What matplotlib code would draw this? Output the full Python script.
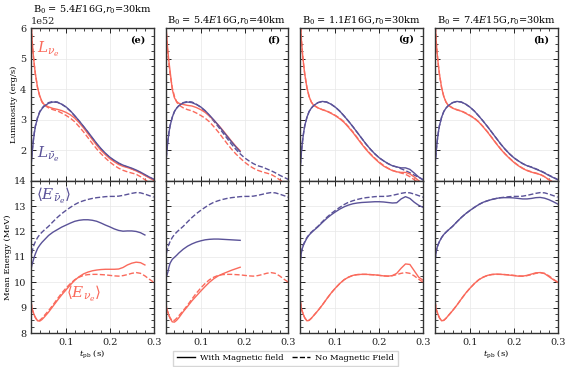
import numpy as np
import matplotlib
matplotlib.use("Agg")
import matplotlib.pyplot as plt
from matplotlib.lines import Line2D
from matplotlib.ticker import AutoMinorLocator

plt.rcParams['font.family'] = 'DejaVu Serif'
plt.rcParams['mathtext.fontset'] = 'dejavuserif'

# time after bounce (s)
t = [0.02, 0.0225, 0.025, 0.0275, 0.03, 0.035, 0.04, 0.045, 0.05,
     0.06, 0.07, 0.08, 0.09, 0.10, 0.11, 0.12, 0.13, 0.14, 0.15, 0.16,
     0.17, 0.18, 0.19, 0.20, 0.21, 0.22, 0.23, 0.24, 0.25, 0.26, 0.27,
     0.28, 0.29, 0.30]

titles = ['B$_0$ = 5.4$E$16G,$r_0$=30km', 'B$_0$ = 5.4$E$16G,$r_0$=40km',
          'B$_0$ = 1.1$E$16G,$r_0$=30km', 'B$_0$ = 7.4$E$15G,$r_0$=30km']
panel_tags = ['(e)', '(f)', '(g)', '(h)']

# no magnetic field run (same in every column), luminosity in 1e52 erg/s
lum_nue_nob = [6.3, 5.6, 5.15, 4.8, 4.5, 4.05, 3.76, 3.58, 3.48,
               3.39, 3.33, 3.29, 3.22, 3.14, 3.05, 2.93, 2.77, 2.6, 2.41, 2.22,
               2.04, 1.88, 1.74, 1.61, 1.5, 1.41, 1.34, 1.29, 1.25, 1.21, 1.13,
               1.03, 0.95, 0.88]
lum_anue_nob = [1.5, 1.95, 2.3, 2.58, 2.8, 3.08, 3.27, 3.38, 3.46,
                3.56, 3.6, 3.58, 3.51, 3.41, 3.28, 3.12, 2.95, 2.77, 2.58, 2.39,
                2.2, 2.03, 1.88, 1.75, 1.65, 1.56, 1.49, 1.45, 1.39, 1.33, 1.26,
                1.18, 1.11, 1.04]
en_nue_nob = [9.25, 8.95, 8.82, 8.7, 8.6, 8.48, 8.5, 8.58, 8.68,
              8.88, 9.1, 9.34, 9.57, 9.77, 9.95, 10.1, 10.2, 10.27, 10.3, 10.31,
              10.31, 10.3, 10.29, 10.27, 10.25, 10.24, 10.26, 10.3, 10.35, 10.38, 10.35,
              10.25, 10.12, 10.0]
en_anue_nob = [10.85, 11.2, 11.38, 11.5, 11.6, 11.76, 11.88, 11.97, 12.05,
               12.2, 12.38, 12.55, 12.7, 12.83, 12.95, 13.06, 13.15, 13.21, 13.26, 13.3,
               13.33, 13.35, 13.37, 13.38, 13.38, 13.39, 13.42, 13.46, 13.5, 13.53, 13.52,
               13.47, 13.41, 13.35]

# magnetic field runs
lum_nue_e = [6.3, 5.6, 5.15, 4.8, 4.5, 4.05, 3.78, 3.6, 3.5,
             3.42, 3.37, 3.34, 3.3, 3.24, 3.16, 3.05, 2.9, 2.73, 2.54, 2.35,
             2.16, 1.99, 1.85, 1.72, 1.62, 1.53, 1.47, 1.43, 1.38, 1.32, 1.25,
             1.17, 1.09, 1.01]
lum_anue_e = [1.45, 1.9, 2.25, 2.55, 2.78, 3.06, 3.25, 3.36, 3.44,
              3.54, 3.58, 3.57, 3.51, 3.42, 3.29, 3.13, 2.96, 2.78, 2.6, 2.41,
              2.22, 2.05, 1.9, 1.77, 1.67, 1.58, 1.51, 1.46, 1.41, 1.35, 1.28,
              1.2, 1.12, 1.05]
en_nue_e = [9.25, 8.95, 8.82, 8.7, 8.62, 8.48, 8.47, 8.53, 8.62,
            8.82, 9.05, 9.28, 9.5, 9.7, 9.9, 10.08, 10.22, 10.33, 10.4, 10.45,
            10.48, 10.5, 10.51, 10.51, 10.51, 10.52, 10.58, 10.68, 10.75, 10.79, 10.77,
            10.68]
en_anue_e = [10.5, 10.7, 10.85, 11.0, 11.12, 11.33, 11.46, 11.57, 11.66,
             11.84, 11.97, 12.07, 12.17, 12.25, 12.33, 12.4, 12.44, 12.46, 12.46, 12.44,
             12.4, 12.33, 12.25, 12.18, 12.1, 12.04, 12.01, 12.02, 12.02, 12.0, 11.95,
             11.86]

lum_nue_f = [6.3, 5.7, 5.25, 4.9, 4.6, 4.0, 3.72, 3.6, 3.54,
             3.5, 3.47, 3.45, 3.4, 3.33, 3.24, 3.12, 2.98, 2.83, 2.66, 2.48,
             2.3, 2.13, 1.98]
lum_anue_f = [1.5, 1.95, 2.3, 2.58, 2.8, 3.08, 3.27, 3.38, 3.46,
              3.55, 3.58, 3.56, 3.5, 3.42, 3.3, 3.15, 2.99, 2.82, 2.64, 2.46,
              2.28, 2.11, 1.95]
en_nue_f = [9.25, 8.95, 8.82, 8.68, 8.58, 8.44, 8.43, 8.5, 8.6,
            8.84, 9.05, 9.27, 9.46, 9.65, 9.83, 10.0, 10.14, 10.25, 10.33, 10.4,
            10.47, 10.53, 10.59]
en_anue_f = [10.6, 10.25, 10.4, 10.6, 10.75, 10.9, 10.98, 11.06, 11.15,
             11.3, 11.42, 11.51, 11.58, 11.63, 11.67, 11.69, 11.7, 11.7, 11.69, 11.68,
             11.67, 11.66, 11.65]

lum_nue_g = [6.3, 5.6, 5.15, 4.8, 4.5, 4.05, 3.76, 3.58, 3.48,
             3.39, 3.33, 3.28, 3.21, 3.13, 3.03, 2.91, 2.75, 2.58, 2.39, 2.2,
             2.02, 1.86, 1.72, 1.59, 1.48, 1.4, 1.33, 1.29, 1.27, 1.27, 1.22,
             1.12, 1.0, 0.9]
lum_anue_g = [1.5, 1.95, 2.3, 2.58, 2.8, 3.08, 3.27, 3.38, 3.46,
              3.56, 3.6, 3.58, 3.51, 3.41, 3.28, 3.12, 2.95, 2.77, 2.58, 2.39,
              2.2, 2.03, 1.88, 1.75, 1.65, 1.56, 1.49, 1.45, 1.42, 1.42, 1.37,
              1.25, 1.12, 1.02]
en_nue_g = [9.25, 8.95, 8.82, 8.7, 8.6, 8.48, 8.5, 8.58, 8.68,
            8.88, 9.1, 9.34, 9.57, 9.77, 9.95, 10.1, 10.2, 10.27, 10.3, 10.31,
            10.31, 10.3, 10.29, 10.27, 10.25, 10.24, 10.26, 10.35, 10.55, 10.72, 10.7,
            10.45, 10.2, 10.08]
en_anue_g = [10.85, 11.2, 11.36, 11.48, 11.57, 11.74, 11.86, 11.95, 12.03,
             12.18, 12.35, 12.51, 12.65, 12.77, 12.88, 12.97, 13.04, 13.09, 13.12, 13.14,
             13.15, 13.16, 13.17, 13.17, 13.16, 13.14, 13.12, 13.13, 13.28, 13.37, 13.3,
             13.15, 13.03, 12.95]

lum_nue_h = [6.3, 5.6, 5.15, 4.8, 4.5, 4.05, 3.76, 3.58, 3.47,
             3.38, 3.32, 3.28, 3.21, 3.13, 3.04, 2.92, 2.76, 2.59, 2.4, 2.21,
             2.03, 1.87, 1.73, 1.6, 1.49, 1.4, 1.33, 1.28, 1.24, 1.2, 1.13,
             1.03, 0.95, 0.88]
lum_anue_h = [1.5, 1.95, 2.3, 2.58, 2.8, 3.08, 3.27, 3.38, 3.46,
              3.56, 3.6, 3.58, 3.51, 3.41, 3.28, 3.12, 2.95, 2.77, 2.58, 2.39,
              2.2, 2.03, 1.88, 1.75, 1.65, 1.56, 1.49, 1.44, 1.38, 1.32, 1.25,
              1.17, 1.1, 1.03]
en_nue_h = [9.25, 8.95, 8.82, 8.7, 8.6, 8.48, 8.5, 8.58, 8.68,
            8.88, 9.1, 9.34, 9.57, 9.77, 9.95, 10.1, 10.2, 10.27, 10.31, 10.32,
            10.31, 10.3, 10.28, 10.26, 10.24, 10.24, 10.27, 10.32, 10.37, 10.38, 10.34,
            10.22, 10.1, 10.0]
en_anue_h = [10.85, 11.2, 11.38, 11.5, 11.6, 11.76, 11.88, 11.97, 12.05,
             12.2, 12.38, 12.55, 12.7, 12.83, 12.95, 13.06, 13.15, 13.21, 13.26, 13.3,
             13.33, 13.33, 13.33, 13.32, 13.3, 13.28, 13.28, 13.3, 13.33, 13.34, 13.31,
             13.25, 13.17, 13.08]

lum_nue_b = [lum_nue_e, lum_nue_f, lum_nue_g, lum_nue_h]
lum_anue_b = [lum_anue_e, lum_anue_f, lum_anue_g, lum_anue_h]
en_nue_b = [en_nue_e, en_nue_f, en_nue_g, en_nue_h]
en_anue_b = [en_anue_e, en_anue_f, en_anue_g, en_anue_h]

red = '#fa6a5c'
purple = '#5a5298'
lw = 1.0

fig = plt.figure(figsize=(5.71, 3.67), dpi=100)
gs = fig.add_gridspec(2, 4, left=0.0543, right=0.9767, top=0.9229, bottom=0.0926,
                      wspace=0.098, hspace=0)
t = np.array(t)

def style(ax):
    ax.tick_params(which='both', direction='in', top=True, right=True, labelsize=7,
                   colors='#222222')
    ax.tick_params(which='major', length=3.5, width=0.7)
    ax.tick_params(which='minor', length=2, width=0.6)
    ax.xaxis.set_minor_locator(AutoMinorLocator(5))
    ax.yaxis.set_minor_locator(AutoMinorLocator(4))
    ax.grid(True, which='major', color='#e8e8e8', lw=0.5)
    ax.set_axisbelow(True)
    for s in ax.spines.values():
        s.set_linewidth(1.0)
        s.set_color('#333333')

for i in range(4):
    ax1 = fig.add_subplot(gs[0, i])
    ax2 = fig.add_subplot(gs[1, i], sharex=ax1)
    n_b = len(lum_nue_b[i])

    ax1.plot(t, np.array(lum_nue_nob) * 1e52, color=red, lw=lw, ls='--')
    ax1.plot(t, np.array(lum_anue_nob) * 1e52, color=purple, lw=lw, ls='--')
    ax1.plot(t[:n_b], np.array(lum_nue_b[i]) * 1e52, color=red, lw=lw)
    ax1.plot(t[:n_b], np.array(lum_anue_b[i]) * 1e52, color=purple, lw=lw)

    n_e = len(en_nue_b[i])
    ax2.plot(t, en_nue_nob, color=red, lw=lw, ls='--')
    ax2.plot(t, en_anue_nob, color=purple, lw=lw, ls='--')
    ax2.plot(t[:n_e], en_nue_b[i], color=red, lw=lw)
    ax2.plot(t[:n_e], en_anue_b[i], color=purple, lw=lw)

    ax1.set_xlim(0.02, 0.3)
    ax1.set_ylim(1e52, 6e52)
    ax1.set_yticks([2e52, 3e52, 4e52, 5e52, 6e52])
    ax2.set_ylim(8, 14)
    ax2.set_yticks([8, 9, 10, 11, 12, 13, 14])
    ax2.set_xticks([0.1, 0.2, 0.3])
    style(ax1)
    style(ax2)
    ax1.tick_params(labelbottom=False)
    ax1.set_title(titles[i], fontsize=7, pad=4)
    ax1.text(0.93, 0.955, panel_tags[i], transform=ax1.transAxes, ha='right',
             va='top', fontsize=7, fontweight='bold')
    ax1.yaxis.get_offset_text().set_fontsize(7)

    if i == 0:
        ax1.set_ylabel('Luminosity (erg/s)', fontsize=6, labelpad=1.5)
        ax2.set_ylabel('Mean Energy (MeV)', fontsize=6, labelpad=1.5)
        ax1.text(0.034, 5.3e52, r'$L_{\nu_e}$', color=red, fontsize=11, va='center')
        ax1.text(0.034, 1.85e52, r'$L_{\bar{\nu}_e}$', color=purple, fontsize=11,
                 va='center')
        ax2.text(0.031, 13.4, r'$\langle E_{\bar{\nu}_e}\rangle$', color=purple,
                 fontsize=11, va='center')
        ax2.text(0.101, 9.55, r'$\langle E_{\nu_e}\rangle$', color=red,
                 fontsize=11, va='center')
    else:
        ax1.tick_params(labelleft=False)
        ax2.tick_params(labelleft=False)
        ax1.yaxis.get_offset_text().set_visible(False)
    if i in (0, 3):
        ax2.set_xlabel(r'$t_{\rm pb}$ (s)', fontsize=6, labelpad=1)

handles = [Line2D([], [], color='black', lw=1.0),
           Line2D([], [], color='black', lw=1.0, ls='--')]
fig.legend(handles, ['With Magnetic field', 'No Magnetic Field'], loc='upper center',
           bbox_to_anchor=(0.5, 0.055), ncol=2, fontsize=6, frameon=True,
           fancybox=False, edgecolor='#cccccc', handlelength=2.2, columnspacing=1.0,
           borderpad=0.4, handletextpad=0.6)

fig.savefig('out.png', dpi=100)
